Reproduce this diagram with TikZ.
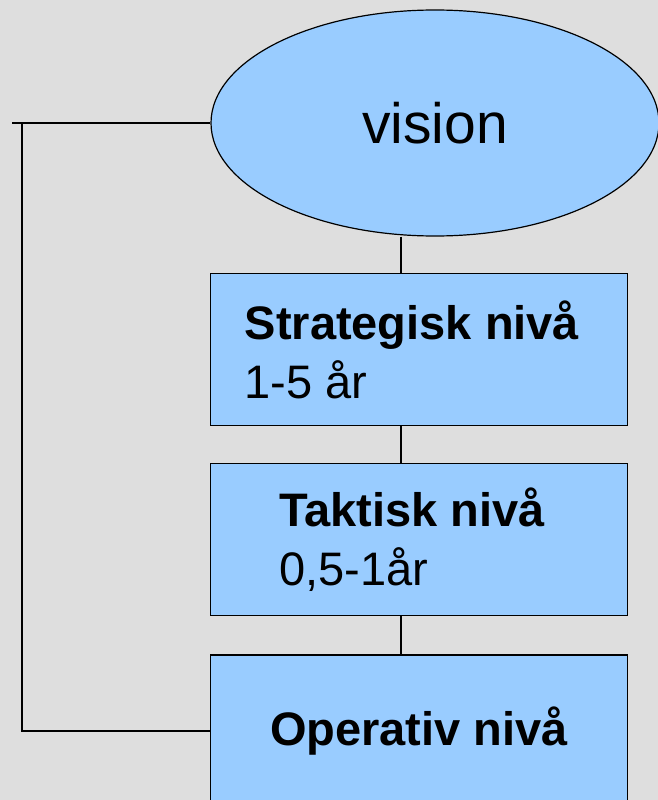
\documentclass[tikz,border=0pt]{standalone}
\usepackage{fontspec}
\setmainfont{Liberation Sans}
\usepackage{tikz}
\usetikzlibrary{positioning}
\usetikzlibrary{shapes.geometric}
\definecolor{planblue}{HTML}{99CCFF}
\definecolor{pagegray}{HTML}{DEDEDE}
\tikzstyle{goal} = [draw, ellipse, fill=planblue, line width=1.2pt, minimum width=448pt, minimum height=226pt, font=\fontsize{57}{68}\selectfont]
\tikzstyle{level} = [draw, rectangle, fill=planblue, line width=1.2pt, minimum width=417pt, minimum height=152pt, align=left, font=\fontsize{47}{59}\selectfont]
\tikzstyle{coord} = [coordinate]
\tikzstyle{link} = [line width=1.2pt]

\begin{document}
\begin{tikzpicture}[x=1pt,y=-1pt,node distance=37pt]
    \fill [pagegray] (0,0) rectangle (658,800);
    \useasboundingbox (0,0) rectangle (658,800);

    \node [goal] (vision) at (435,123) {vision};
    \node [level] (strat) at (419,349.5) {\textbf{Strategisk nivå}\hspace*{14pt}\\1-5 år};
    \node [level, below = 37pt of strat] (taktik) {\textbf{Taktisk nivå}\hspace*{14pt}\\0,5-1år};
    \node [level, below = 38pt of taktik] (oper) {\textbf{Operativ nivå}};

    \coordinate (spine) at (401,0);
    \coordinate (rail) at (22,0);
    \coordinate (tick) at (12,123);

    \draw [link] (vision.south -| spine) -- (strat.north -| spine); % chain
    \draw [link] (strat.south -| spine) -- (taktik.north -| spine);
    \draw [link] (taktik.south -| spine) -- (oper.north -| spine);

    \draw [link] (tick) -- (vision.west); % feedback
    \draw [link] (vision.west -| rail) |- (oper.west);
\end{tikzpicture}
\end{document}
